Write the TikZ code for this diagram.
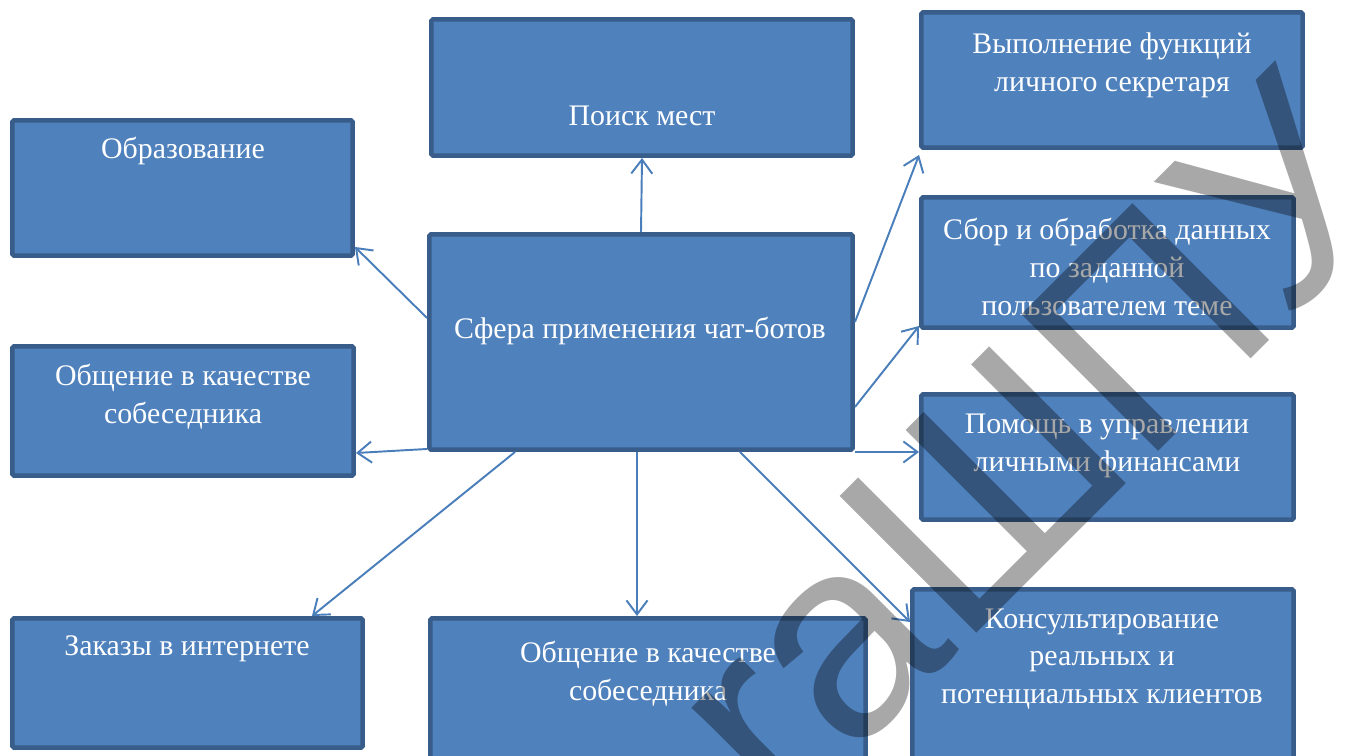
\documentclass[tikz,border=0pt]{standalone}
\usepackage{fontspec}
\setmainfont{Liberation Serif}
\newfontfamily\wmfont{Liberation Sans}
\usepackage{tikz}
\usetikzlibrary{calc}
\usetikzlibrary{arrows.meta}
\definecolor{boxfill}{RGB}{79,129,189}
\definecolor{boxline}{RGB}{56,93,138}
\definecolor{arrline}{RGB}{74,126,187}
\tikzset{
	box/.style={draw=boxline,fill=boxfill,line width=0.09cm,rounded corners=1pt,inner sep=0pt},
	txt/.style={text=white,align=center,font=\fontsize{17}{21.5}\selectfont},
	arr/.style={draw=arrline,line width=1.1pt,-{Straight Barb[length=8pt,width=12pt]}}
}

\begin{document}
\begin{tikzpicture}[x=0.02cm,y=-0.02cm]
	\useasboundingbox (0,0) rectangle (1361,756);
	% boxes
	\node[box,minimum width=8.43cm,minimum height=2.73cm] (poisk) at (642,87.5) {};
	\node[box,minimum width=6.81cm,minimum height=2.71cm] (obraz) at (182.5,188) {};
	\node[box,minimum width=6.83cm,minimum height=2.59cm] (obsh1) at (183,411) {};
	\node[box,minimum width=8.47cm,minimum height=4.31cm] (sfera) at (641,342) {};
	\node[box,minimum width=7.63cm,minimum height=2.71cm] (vypoln) at (1112,80) {};
	\node[box,minimum width=7.45cm,minimum height=2.61cm] (sbor) at (1107.5,262.5) {};
	\node[box,minimum width=7.45cm,minimum height=2.51cm] (pomosh) at (1107.5,457) {};
	\node[box,minimum width=7.63cm,minimum height=3.67cm] (konsult) at (1103,681) {};
	\node[box,minimum width=7.01cm,minimum height=2.59cm] (zakaz) at (187.5,683) {};
	\node[box,minimum width=8.71cm,minimum height=3.09cm] (obsh2) at (648,695.5) {};
	% texts
	\node[txt] (poiskT) at (642,116) {Поиск мест};
	\node[txt] (obrazT) at (183,151) {Образование};
	\node[txt] (obsh1T) at (183,397) {Общение в качестве\\собеседника};
	\node[txt] (sferaT) at (640,331) {Сфера применения чат-ботов};
	\node[txt] (vypolnT) at (1112,65) {Выполнение функций\\личного секретаря};
	\node[txt] (sborT) at (1107,267) {Сбор и обработка данных\\по заданной\\пользователем теме};
	\node[txt] (pomoshT) at (1107,446) {Помощь в управлении\\личными финансами};
	\node[txt] (konsultT) at (1102,659) {Консультирование\\реальных и\\потенциальных клиентов};
	\node[txt] (zakazT) at (187,649) {Заказы в интернете};
	\node[txt] (obsh2T) at (648,674) {Общение в качестве\\собеседника};
	% arrows
	\draw[arr] (sfera.north) -- (poisk.south);
	\draw[arr] ($(sfera.west)+(0,-24)$) -- ($(obraz.south east)+(0,-11)$);
	\draw[arr] ($(sfera.south west)+(0,-3)$) -- ($(obsh1.east)+(0,42)$);
	\draw[arr] ($(sfera.south west)+(88,0)$) -- ($(zakaz.north east)+(-53,0)$);
	\draw[arr] ($(sfera.south)+(-4,0)$) -- ($(obsh2.north)+(-11,0)$);
	\draw[arr] ($(sfera.south)+(99,0)$) -- ($(konsult.north west)+(0,35)$);
	\draw[arr] (sfera.south east) -- (sfera.south east -| pomosh.west);
	\draw[arr] ($(sfera.east)+(0,65)$) -- ($(sbor.south west)+(0,-4)$);
	\draw[arr] ($(sfera.east)+(0,-20)$) -- ($(vypoln.south west)+(0,5)$);
	% watermark
	\node[rotate=45,text=black,text opacity=0.34,font=\wmfont\fontsize{160}{160}\selectfont] (wmark) at (1030,445) {raШПУ};
\end{tikzpicture}
\end{document}
